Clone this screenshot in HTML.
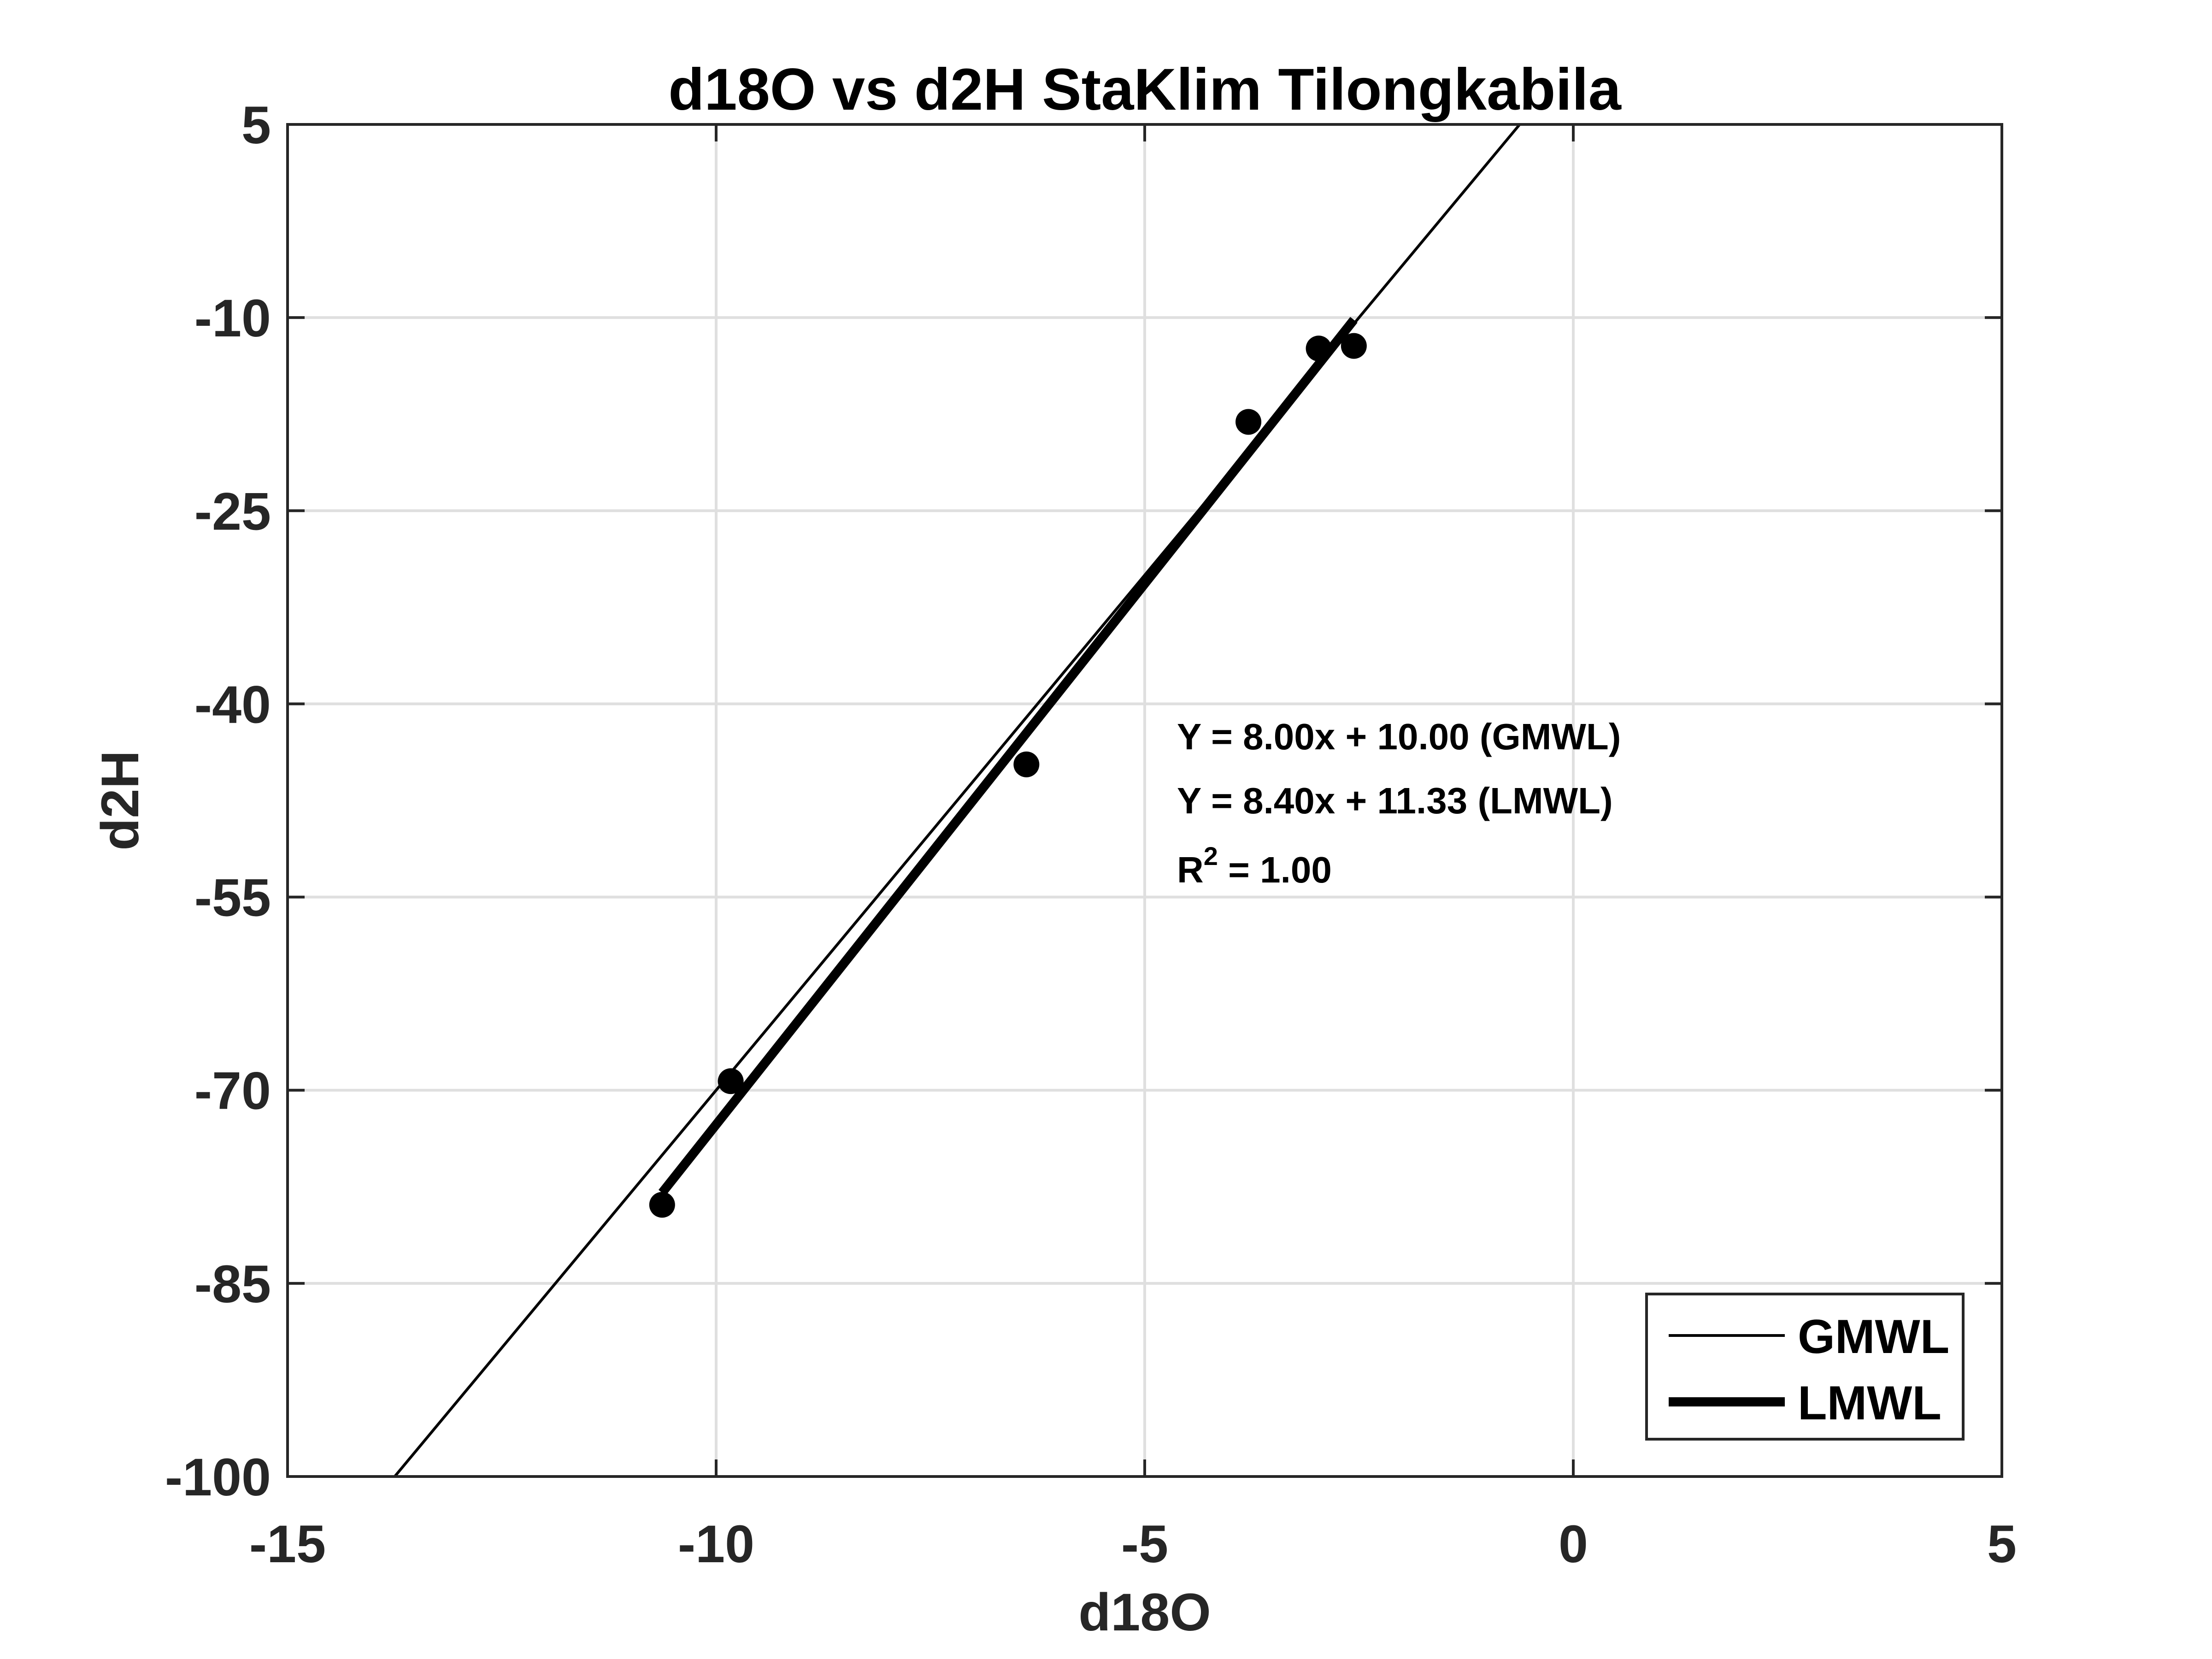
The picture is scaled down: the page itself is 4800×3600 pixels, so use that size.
<!DOCTYPE html>
<html><head><meta charset="utf-8"><style>
html,body{margin:0;padding:0;background:#fff;}
svg{display:block;font-family:"Liberation Sans",Arial,sans-serif;font-weight:bold;}
</style></head><body>
<svg id="chart" width="4800" height="3600" viewBox="0 0 4800 3600" xmlns="http://www.w3.org/2000/svg">
<rect x="0" y="0" width="4800" height="3600" fill="#fff"/>
<g id="grid"></g>
<g id="marks"></g>
<rect x="624" y="270" width="3720" height="2934" fill="none" stroke="#262626" stroke-width="6"/>
<g id="ticks"></g>
<text x="2484" y="238" font-size="128" text-anchor="middle" fill="#000">d18O vs d2H StaKlim Tilongkabila</text>
<text x="2484" y="3538" font-size="115" text-anchor="middle" fill="#262626">d18O</text>
<text transform="translate(300,1737) rotate(-90)" font-size="115" text-anchor="middle" fill="#262626">d2H</text>
<g font-size="80" fill="#000">
<text x="2554" y="1626">Y = 8.00x + 10.00 (GMWL)</text>
<text x="2554" y="1765">Y = 8.40x + 11.33 (LMWL)</text>
<text x="2554" y="1915">R<tspan dy="-38" font-size="56">2</tspan><tspan dy="38"> = 1.00</tspan></text>
</g>
<g>
<rect x="3573" y="2808" width="687" height="315" fill="#fff" stroke="#262626" stroke-width="6"/>
<line x1="3621" y1="2898" x2="3873" y2="2898" stroke="#000" stroke-width="6"/>
<text x="3901" y="2936" font-size="104" fill="#000">GMWL</text>
<line x1="3621" y1="3042" x2="3873" y2="3042" stroke="#000" stroke-width="20"/>
<text x="3901" y="3080" font-size="104" fill="#000">LMWL</text>
</g>
</svg>
<script>
const xTicks = [-15, -10, -5, 0, 5];
const yTicks = [5, -10, -25, -40, -55, -70, -85, -100];
const d18O = [-10.63, -9.83, -6.38, -3.79, -2.97, -2.56];
const d2H = [-78.9, -69.3, -44.7, -18.1, -12.4, -12.2];
const gmwlCoef = [8.00, 10.00];
const lmwlCoef = [8.40, 11.33];
const xDomain = [-15, 5];
const yDomain = [-100, 5];

const NS = "http://www.w3.org/2000/svg";
const L = 624, R = 4344, T = 270, B = 3204;
function sx(v){ return L + (v - xDomain[0]) / (xDomain[1] - xDomain[0]) * (R - L); }
function sy(v){ return B - (v - yDomain[0]) / (yDomain[1] - yDomain[0]) * (B - T); }
function mk(tag, attrs, parent){
  const e = document.createElementNS(NS, tag);
  for (const k in attrs) e.setAttribute(k, attrs[k]);
  parent.appendChild(e);
  return e;
}
const grid = document.getElementById('grid');
const ticks = document.getElementById('ticks');
const marks = document.getElementById('marks');

xTicks.forEach(t => {
  const x = sx(t);
  if (t !== xDomain[0] && t !== xDomain[1]) {
    const g = mk('line', {x1:x, y1:T, x2:x, y2:B, stroke:'#dfdfdf', 'stroke-width':6}, grid);
    
    
  }
  const a = mk('line', {x1:x, y1:B, x2:x, y2:B-37, stroke:'#262626', 'stroke-width':6}, ticks);
  
  
  const b = mk('line', {x1:x, y1:T, x2:x, y2:T+37, stroke:'#262626', 'stroke-width':6}, ticks);
  
  
  const lb = mk('text', {x:x, y:3390, 'font-size':115, 'text-anchor':'middle', fill:'#262626'}, ticks);
  lb.textContent = String(t);
  
  
});
yTicks.forEach(t => {
  const y = sy(t);
  if (t !== yDomain[0] && t !== yDomain[1]) {
    const g = mk('line', {x1:L, y1:y, x2:R, y2:y, stroke:'#dfdfdf', 'stroke-width':6}, grid);
    
    
  }
  const a = mk('line', {x1:L, y1:y, x2:L+37, y2:y, stroke:'#262626', 'stroke-width':6}, ticks);
  
  
  const b = mk('line', {x1:R, y1:y, x2:R-37, y2:y, stroke:'#262626', 'stroke-width':6}, ticks);
  
  
  const lb = mk('text', {x:588, y:y+41, 'font-size':115, 'text-anchor':'end', fill:'#262626'}, ticks);
  lb.textContent = String(t);
  
  
});

const gx0 = (yDomain[0] - gmwlCoef[1]) / gmwlCoef[0];
const gx1 = (yDomain[1] - gmwlCoef[1]) / gmwlCoef[0];
const gm = mk('line', {x1:sx(gx0), y1:sy(yDomain[0]), x2:sx(gx1), y2:sy(yDomain[1]), stroke:'#000', 'stroke-width':6}, marks);



const xmin = Math.min(...d18O), xmax = Math.max(...d18O);
const lm = mk('line', {x1:sx(xmin), y1:sy(lmwlCoef[0]*xmin+lmwlCoef[1]), x2:sx(xmax), y2:sy(lmwlCoef[0]*xmax+lmwlCoef[1]), stroke:'#000', 'stroke-width':20}, marks);



d18O.forEach((v, i) => {
  const c = mk('circle', {cx:sx(v), cy:sy(d2H[i]), r:28, fill:'#000'}, marks);
  
  
});
</script>
</body></html>
